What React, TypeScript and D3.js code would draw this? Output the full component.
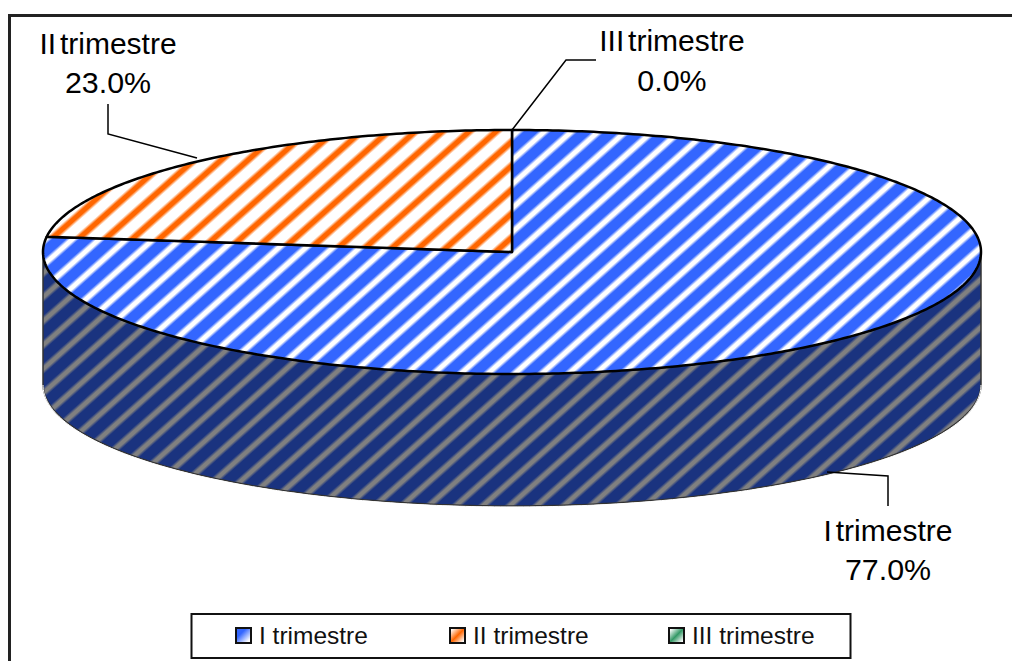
import React from "react";
import * as d3 from "d3";

const categories = ["I trimestre", "II trimestre", "III trimestre"];
const values = [77.0, 23.0, 0.0];
const pctLabels = ["77.0%", "23.0%", "0.0%"];
const topColors = ["#3366ff", "#ff6600", "#339966"];
const sideColor = "#1a337f";
const sideStripe = "#808080";

const W = 1012, H = 661;
const cx = 512, cy = 252, rx = 469, ry = 122, depth = 132;
const font = "'Liberation Sans', Arial, sans-serif";

const pie = d3.pie<number>().sort(null).startAngle(0).endAngle(2 * Math.PI);
const arcs = pie(values);
const xS = d3.scaleLinear().domain([-1, 1]).range([cx - rx, cx + rx]);
const yS = d3.scaleLinear().domain([-1, 1]).range([cy - ry, cy + ry]);
const line = d3.line<[number, number]>();

const rim = (a0: number, a1: number, dy = 0): [number, number][] => {
  const n = Math.max(2, Math.ceil(Math.abs(a1 - a0) * 80));
  return d3.range(n + 1).map((i) => {
    const a = a0 + ((a1 - a0) * i) / n;
    return [xS(Math.sin(a)), yS(-Math.cos(a)) + dy] as [number, number];
  });
};
const slicePath = (a0: number, a1: number) =>
  line([[cx, cy], ...rim(a0, a1)]) + "Z";
const sidePath =
  line([...rim(Math.PI / 2, (3 * Math.PI) / 2), ...rim((3 * Math.PI) / 2, Math.PI / 2, depth)]) + "Z";
const sideBottom = line(rim(Math.PI / 2, (3 * Math.PI) / 2, depth))!;

const labelLayout = [
  { x: 888, y: [541, 580], leader: [[827, 472], [888, 476], [888, 506]] },
  { x: 108, y: [54, 93], leader: [[108, 104], [108, 134], [197, 158]] },
  { x: 672, y: [51, 91], leader: [[512, 130], [566, 60], [596, 60]] },
];
const legendLayout = [
  { key: 236, text: 259 },
  { key: 450, text: 473 },
  { key: 669, text: 692 },
];
// stripe period vector, perpendicular to stripes of horizontal period 27 / vertical period 24
const vx = 11.9, vy = 13.4;

// Soft-edged repeating stripe: `c` is the colour centred at (ox, oy), half-width h (fraction of period).
const Stripes = ({ id, c, bg, ox, oy, h }: { id: string; c: string; bg: string; ox: number; oy: number; h: number }) => (
  <linearGradient id={id} gradientUnits="userSpaceOnUse" spreadMethod="repeat" x1={ox} y1={oy} x2={ox + vx} y2={oy + vy}>
    <stop offset={0} stopColor={c} />
    <stop offset={h - 0.08} stopColor={c} />
    <stop offset={h + 0.08} stopColor={bg} />
    <stop offset={1 - h - 0.08} stopColor={bg} />
    <stop offset={1 - h + 0.08} stopColor={c} />
    <stop offset={1} stopColor={c} />
  </linearGradient>
);

export default function App() {
  return (
    <svg width={W} height={H} style={{ position: "absolute", left: 0, top: 0, background: "#fff" }}>
      <defs>
        <Stripes id="t0" c="#ffffff" bg={topColors[0]} ox={635} oy={195} h={0.17} />
        <Stripes id="t1" c={topColors[1]} bg="#ffffff" ox={472} oy={153} h={0.18} />
        <Stripes id="s0" c={sideStripe} bg={sideColor} ox={340} oy={393} h={0.16} />
        {topColors.map((c, i) => (
          <linearGradient id={`k${i}`} key={c} x1="0" y1="0" x2="1" y2="1">
            {i === 0 && <><stop offset="0.35" stopColor={c} /><stop offset="0.85" stopColor="#fff" /></>}
            {i > 0 && <><stop offset="0.1" stopColor="#fff" /><stop offset="0.5" stopColor={c} /><stop offset="0.9" stopColor="#fff" /></>}
          </linearGradient>
        ))}
      </defs>
      <path d={`M9.5 ${H + 5}V15.5H${W + 5}`} fill="none" stroke="#222" strokeWidth={3} />

      <path d={sidePath} fill="url(#s0)" stroke="#333" strokeWidth={1.5} />
      <path d={sideBottom} fill="none" stroke="#fff" strokeWidth={1} transform="translate(0 1)" />

      {arcs.map((a, i) =>
        a.endAngle - a.startAngle > 0 ? (
          <path key={i} d={slicePath(a.startAngle, a.endAngle)} fill={`url(#t${i})`} stroke="#000" strokeWidth={2.5} strokeLinejoin="round" />
        ) : null
      )}

      {labelLayout.map((l, i) => (
        <g key={i}>
          <path d={line(l.leader as [number, number][])!} fill="none" stroke="#000" strokeWidth={1.5} />
          <text x={l.x} y={l.y[0]} textAnchor="middle" fontFamily={font} fontSize={30} wordSpacing={-4.5} fill="#000">{categories[i]}</text>
          <text x={l.x} y={l.y[1]} textAnchor="middle" fontFamily={font} fontSize={30.4} fill="#000">{pctLabels[i]}</text>
        </g>
      ))}

      <rect x={191.5} y={614} width={659} height={44} fill="#fff" stroke="#111" strokeWidth={2} />
      {categories.map((c, i) => (
        <g key={c}>
          <rect x={legendLayout[i].key} y={628} width={15} height={15} fill={`url(#k${i})`} stroke="#111" strokeWidth={2} />
          <text x={legendLayout[i].text} y={644} fontFamily={font} fontSize={24.5} fill="#111">{c}</text>
        </g>
      ))}
    </svg>
  );
}
